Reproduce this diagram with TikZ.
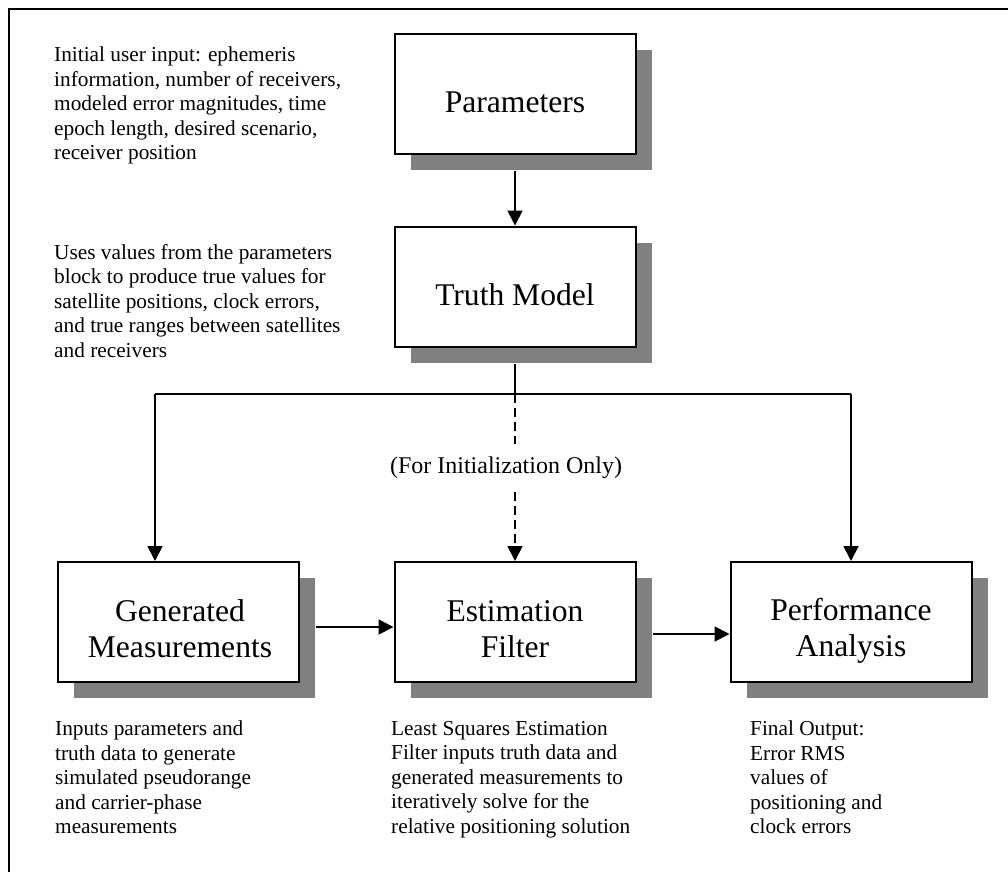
\documentclass[tikz,border=0pt]{standalone}
\usepackage{fontspec}
\setmainfont{Liberation Serif}
\usetikzlibrary{arrows.meta,shadows}
\definecolor{shadowgray}{HTML}{808080}

\begin{document}
\begin{tikzpicture}[x=1pt,y=-1pt,
  block/.style={draw=black, line width=2pt, fill=white,
    minimum width=241pt, minimum height=120pt, inner sep=0pt,
    drop shadow={shadow xshift=16pt, shadow yshift=-16pt, fill=shadowgray, opacity=1}},
  title/.style={font=\fontsize{31.6}{35.6}\selectfont, align=center, inner sep=0pt, anchor=base},
  note/.style={font=\fontsize{21.3}{24.5}\selectfont, align=left, inner sep=0pt, anchor=north west},
  link/.style={line width=1.8pt, -{Triangle[length=15pt,width=15pt]}},
  plain/.style={line width=1.8pt},
  initlink/.style={link, dash pattern=on 9pt off 5pt}
]
\useasboundingbox (0,0) rectangle (1008,871);

% outer frame
\draw[line width=2pt] (9,880) -- (9,9) -- (1015,9);

% blocks
\node[block] (par)   at (515,94)  {};
\node[block] (truth) at (515,286.5) {};
\node[block] (gm)    at (178.5,622) {};
\node[block] (ef)    at (515,622) {};
\node[block] (pa)    at (851,622) {};

% block titles (base anchor sits on the last line)
\node[title] (partext)   at (515,112)   {Parameters};
\node[title] (truthtext) at (515,305)   {Truth Model};
\node[title] (gmtext)    at (180,657.3) {Generated\\Measurements};
\node[title] (eftext)    at (515,657.3) {Estimation\\Filter};
\node[title] (patext)    at (851,656)   {Performance\\Analysis};

% descriptions
\node[note] (parnote) at (54,47) {Initial user input: ephemeris\\information, number of receivers,\\modeled error magnitudes, time\\epoch length, desired scenario,\\receiver position};
\node[note] (truthnote) at (54,244) {Uses values from the parameters\\block to produce true values for\\satellite positions, clock errors,\\and true ranges between satellites\\and receivers};
\node[note] (gmnote) at (55,721) {Inputs parameters and\\truth data to generate\\simulated pseudorange\\and carrier-phase\\measurements};
\node[note] (efnote) at (391,721) {Least Squares Estimation\\Filter inputs truth data and\\generated measurements to\\iteratively solve for the\\relative positioning solution};
\node[note] (panote) at (750,721) {Final Output:\\Error RMS\\values of\\positioning and\\clock errors};

% distribution of the truth data
\coordinate (split) at (515,394);
\coordinate (lt) at (155,394);
\coordinate (rt) at (851,394);

\draw[link] ([yshift=-16pt]par.south) -- (truth.north);
\draw[plain] ([yshift=-16pt]truth.south) -- (split);
\draw[plain] (lt) -- (rt);
\draw[link] (lt) -- (lt |- gm.north);
\draw[link] (rt) -- (pa.north);
\draw[initlink] (split) -- (ef.north);
\node[font=\fontsize{24}{28}\selectfont, fill=white, inner xsep=2pt, inner ysep=13pt] (init) at (506,468) {(For Initialization Only)};

% processing chain
\draw[link] ([xshift=16pt,yshift=-5pt]gm.east) -- ([yshift=-5pt]ef.west);
\draw[link] ([xshift=16pt,yshift=-12pt]ef.east) -- ([yshift=-12pt]pa.west);
\end{tikzpicture}
\end{document}
